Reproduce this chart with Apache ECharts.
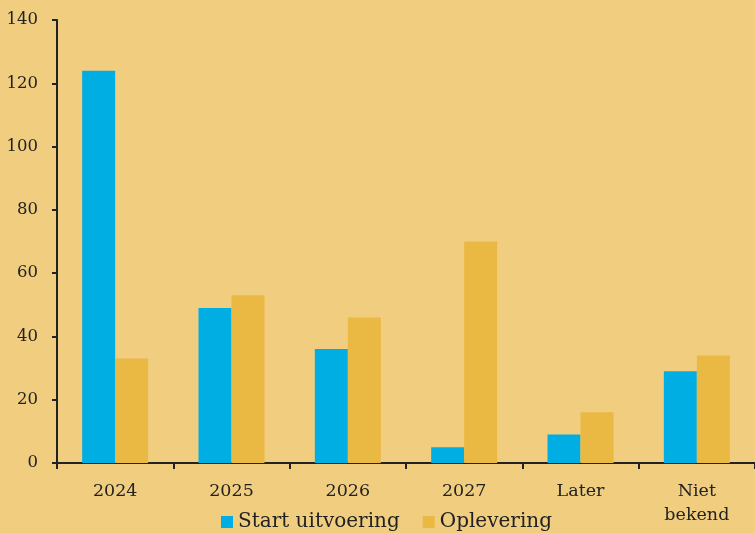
<!DOCTYPE html>
<html><head><meta charset="utf-8">
<script src="https://cdn.jsdelivr.net/npm/echarts@6/dist/echarts.min.js"></script>
<style>html,body{margin:0;padding:0;background:#F0CD7F;}#c{width:755px;height:533px;}</style>
</head><body><div id="c"></div>
<script>
const categories = ['2024', '2025', '2026', '2027', 'Later', 'Niet\nbekend'];
const startUitvoering = [124, 49, 36, 5, 9, 29];
const oplevering = [33, 53, 46, 70, 16, 34];
const seriesNames = ['Start uitvoering', 'Oplevering'];
const font = 'DejaVu Serif';
const chart = echarts.init(document.getElementById('c'));
chart.setOption({
  backgroundColor: '#F0CD7F',
  animation: false,
  grid: { left: 57, right: 0, top: 20, bottom: 70 },
  legend: {
    data: seriesNames, bottom: -4, left: 216, itemWidth: 12, itemHeight: 12, itemGap: 23,
    icon: 'rect',
    textStyle: { fontFamily: font, fontSize: 20, color: '#222' }
  },
  xAxis: {
    type: 'category', data: categories,
    axisLine: { lineStyle: { color: '#222', width: 2 } },
    axisTick: { show: true, length: 6, lineStyle: { color: '#222', width: 2 } },
    axisLabel: { fontFamily: font, fontSize: 17.5, color: '#222', margin: 16, lineHeight: 24 }
  },
  yAxis: {
    type: 'value', min: 0, max: 140, interval: 20,
    splitLine: { show: false },
    axisLine: { show: true, lineStyle: { color: '#222', width: 2 } },
    axisTick: { show: true, length: 5, lineStyle: { color: '#222', width: 2 } },
    axisLabel: { fontFamily: font, fontSize: 16.5, color: '#222', margin: 19 }
  },
  series: [
    { name: seriesNames[0], type: 'bar', data: startUitvoering, barWidth: 33, barGap: '0%', itemStyle: { color: '#00AEE4' } },
    { name: seriesNames[1], type: 'bar', data: oplevering, barWidth: 33, itemStyle: { color: '#EAB944' } }
  ]
});
</script></body></html>
